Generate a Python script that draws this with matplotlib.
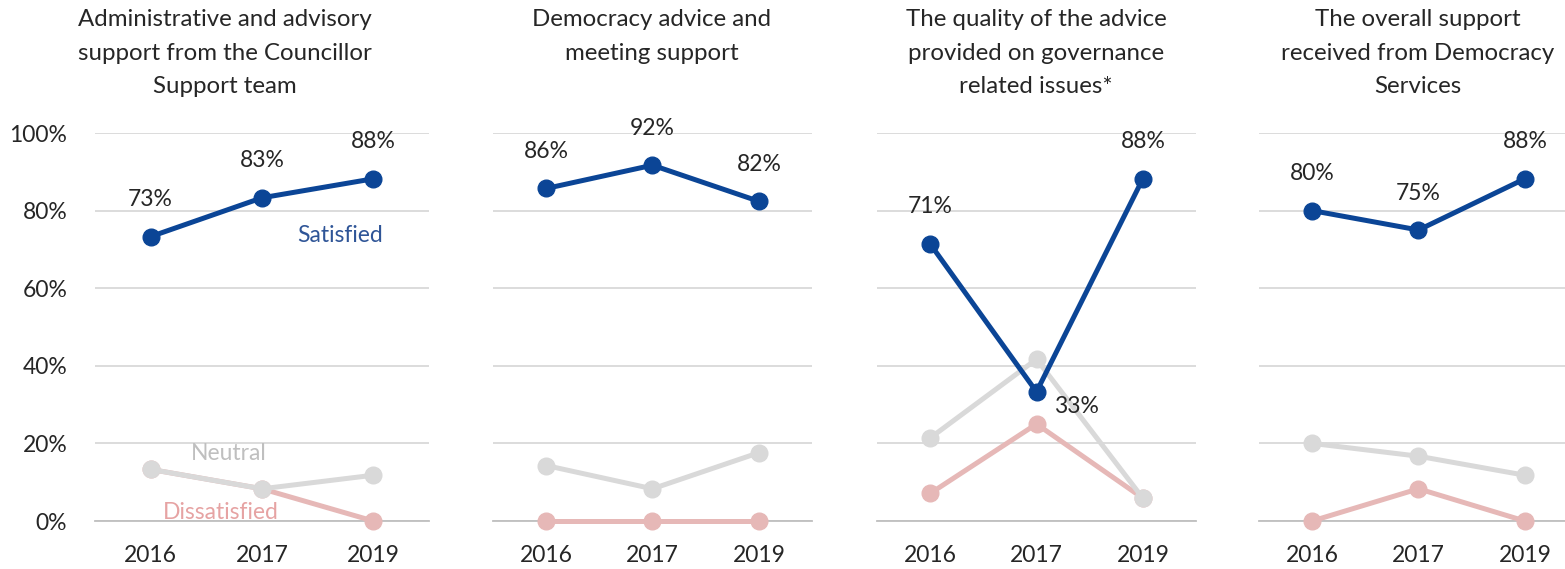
import matplotlib
matplotlib.use("Agg")
import matplotlib.pyplot as plt
from matplotlib.ticker import FuncFormatter

plt.rcParams['font.family'] = ['Lato', 'DejaVu Sans']

years = ["2016", "2017", "2019"]
titles = [
    "Administrative and advisory\nsupport from the Councillor\nSupport team",
    "Democracy advice and\nmeeting support",
    "The quality of the advice\nprovided on governance\nrelated issues*",
    "The overall support\nreceived from Democracy\nServices",
]
satisfied = [[73.3, 83.3, 88.2], [85.7, 91.7, 82.4], [71.4, 33.3, 88.2], [80.0, 75.0, 88.2]]
neutral = [[13.3, 8.3, 11.8], [14.3, 8.3, 17.6], [21.4, 41.7, 5.9], [20.0, 16.7, 11.8]]
dissatisfied = [[13.3, 8.3, 0.0], [0.0, 0.0, 0.0], [7.1, 25.0, 5.9], [0.0, 8.3, 0.0]]
sat_labels = [["73%", "83%", "88%"], ["86%", "92%", "82%"], ["71%", "33%", "88%"], ["80%", "75%", "88%"]]

W, H = 1565, 569
fig = plt.figure(figsize=(W / 100, H / 100), dpi=100)

# plot-area extents in pixels (left, right)
panels_px = [(95, 429), (493, 812), (877, 1196), (1259, 1578)]
title_cx = [225, 652, 1036, 1418]
top_px, bot_px = 133, 521

BLUE = "#0b4596"
GREY = "#d9d9d9"
PINK = "#e6b8b7"
TXT = "#262626"
FS = 16.5
TFS = 17.3

for i, (l, r) in enumerate(panels_px):
    ax = fig.add_axes([l / W, 1 - bot_px / H, (r - l) / W, (bot_px - top_px) / H])
    x = range(len(years))
    ax.plot(x, dissatisfied[i], color=PINK, lw=3.6, marker='o', ms=12, zorder=3,
            solid_capstyle='round', clip_on=False)
    ax.plot(x, neutral[i], color=GREY, lw=3.6, marker='o', ms=12, zorder=4,
            solid_capstyle='round', clip_on=False)
    ax.plot(x, satisfied[i], color=BLUE, lw=3.6, marker='o', ms=12, zorder=5,
            solid_capstyle='round', clip_on=False)
    ax.set_xlim(-0.5, 2.5)
    ax.set_ylim(0, 100)
    ax.set_yticks([0, 20, 40, 60, 80, 100])
    ax.grid(axis='y', color='#d9d9d9', lw=1.3, zorder=0)
    ax.set_axisbelow(True)
    for s in ['top', 'right', 'left']:
        ax.spines[s].set_visible(False)
    ax.spines['bottom'].set_color('#bfbfbf')
    ax.spines['bottom'].set_linewidth(1.3)
    ax.set_xticks(list(x))
    ax.set_xticklabels(years, fontsize=FS, color=TXT)
    ax.tick_params(axis='x', length=0, pad=17)
    if i == 0:
        ax.yaxis.set_major_formatter(FuncFormatter(lambda v, p: f"{int(v)}%"))
        ax.tick_params(axis='y', length=0, pad=20, labelsize=FS, labelcolor=TXT)
    else:
        ax.tick_params(axis='y', length=0, labelleft=False)
    for j in x:
        if i == 2 and j == 1:
            ax.annotate(sat_labels[i][j], (j, satisfied[i][j]), xytext=(40, -15),
                        textcoords='offset pixels', ha='center', va='center',
                        fontsize=FS, color=TXT, zorder=6)
        else:
            ax.annotate(sat_labels[i][j], (j, satisfied[i][j]), xytext=(0, 37),
                        textcoords='offset pixels', ha='center', va='center',
                        fontsize=FS, color=TXT, zorder=6)
    if i == 0:
        ax.text(1.7, 73.6, "Satisfied", color="#2f5597", fontsize=FS, ha='center', va='center')
        ax.text(0.7, 17.5, "Neutral", color="#bfbfbf", fontsize=FS, ha='center', va='center')
        ax.text(0.63, 2.3, "Dissatisfied", color="#e6a3a3", fontsize=FS, ha='center', va='center')
    fig.text(title_cx[i] / W, 1 - 9 / H, titles[i], ha='center', va='top',
             fontsize=TFS, color=TXT, linespacing=1.74)

fig.savefig("out.png", dpi=100)
